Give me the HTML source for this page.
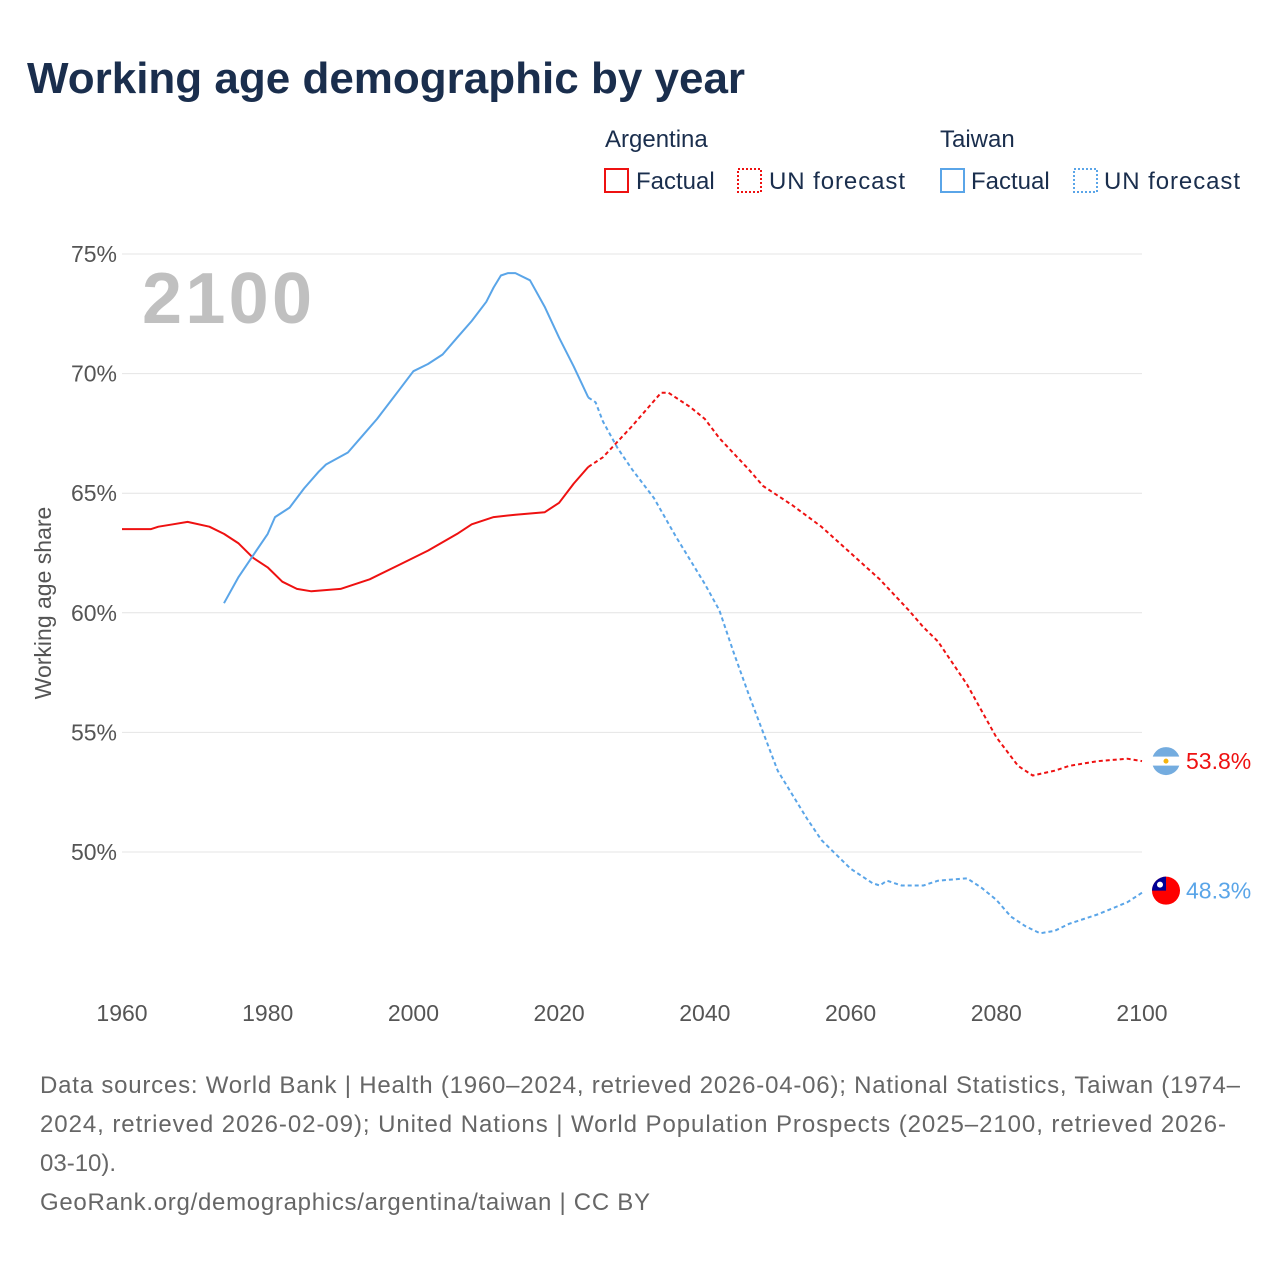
<!DOCTYPE html>
<html><head><meta charset="utf-8">
<style>
body{margin:0;background:#fff;font-family:"Liberation Sans",sans-serif;}
svg text{font-family:"Liberation Sans",sans-serif;}
</style></head>
<body>
<svg id="chart" width="1280" height="1280" xmlns="http://www.w3.org/2000/svg">
<text x="27" y="93" font-size="44" font-weight="bold" fill="#1a2e4d">Working age demographic by year</text>
<g font-size="24" fill="#1a2e4d">
<text x="605" y="147" fill="#1a2e4d">Argentina</text>
<text x="940" y="147" fill="#1a2e4d">Taiwan</text>
<rect x="605" y="169" width="23" height="23" fill="none" stroke="#ee1111" stroke-width="2"/>
<text x="636" y="189" fill="#1a2e4d">Factual</text>
<rect x="738" y="169" width="23" height="23" fill="none" stroke="#ee1111" stroke-width="2" stroke-dasharray="2,2"/>
<text x="769" y="189" fill="#1a2e4d" textLength="136">UN forecast</text>
<rect x="941" y="169" width="23" height="23" fill="none" stroke="#5aa5e8" stroke-width="2"/>
<text x="971" y="189" fill="#1a2e4d">Factual</text>
<rect x="1074" y="169" width="23" height="23" fill="none" stroke="#5aa5e8" stroke-width="2" stroke-dasharray="2,2"/>
<text x="1104" y="189" fill="#1a2e4d" textLength="136">UN forecast</text>
</g>
<text x="142" y="323" font-size="72" font-weight="bold" fill="#c0c0c0" textLength="170">2100</text>
<text transform="translate(51,603) rotate(-90)" text-anchor="middle" font-size="23" fill="#555">Working age share</text>
<g id="grid"></g>
<g id="marks"></g>
<text font-size="24" fill="#666">
<tspan x="40" y="1093" textLength="1200">Data sources: World Bank | Health (1960–2024, retrieved 2026-04-06); National Statistics, Taiwan (1974–</tspan>
<tspan x="40" y="1132" textLength="1186">2024, retrieved 2026-02-09); United Nations | World Population Prospects (2025–2100, retrieved 2026-</tspan>
<tspan x="40" y="1171">03-10).</tspan>
</text>
<text x="40" y="1210" font-size="24" fill="#666" textLength="610">GeoRank.org/demographics/argentina/taiwan | CC BY</text>
</svg>
<script>
const yTicks=[50,55,60,65,70,75];
const xTicks=[1960,1980,2000,2020,2040,2060,2080,2100];
const arYears=[1960,1964,1965,1967,1969,1972,1974,1976,1978,1980,1982,1984,1986,1990,1994,1998,2002,2006,2008,2011,2014,2018,2020,2022,2024];
const arValues=[63.5,63.5,63.6,63.7,63.8,63.6,63.3,62.9,62.3,61.9,61.3,61.0,60.9,61.0,61.4,62.0,62.6,63.3,63.7,64.0,64.1,64.2,64.6,65.4,66.1];
const arFcYears=[2024,2026,2030,2034,2035,2038,2040,2042,2046,2048,2050,2052,2056,2060,2064,2068,2070,2072,2076,2080,2083,2085,2088,2090,2094,2098,2100];
const arFcValues=[66.1,66.5,67.8,69.2,69.2,68.6,68.1,67.3,66.0,65.3,64.9,64.5,63.6,62.5,61.4,60.1,59.4,58.8,57.0,54.8,53.6,53.2,53.4,53.6,53.8,53.9,53.8];
const twYears=[1974,1976,1978,1980,1981,1983,1985,1987,1988,1991,1993,1995,1997,1998,2000,2002,2004,2006,2008,2010,2011,2012,2013,2014,2016,2018,2020,2022,2024];
const twValues=[60.4,61.5,62.4,63.3,64.0,64.4,65.2,65.9,66.2,66.7,67.4,68.1,68.9,69.3,70.1,70.4,70.8,71.5,72.2,73.0,73.6,74.1,74.2,74.2,73.9,72.8,71.5,70.3,69.0];
const twFcYears=[2024,2025,2026,2028,2030,2033,2036,2040,2042,2044,2046,2048,2050,2052,2054,2056,2058,2060,2063,2064,2065,2067,2070,2072,2076,2078,2080,2082,2084,2086,2088,2090,2094,2098,2100];
const twFcValues=[69.0,68.8,68.0,66.9,66.0,64.8,63.2,61.2,60.1,58.3,56.6,55.0,53.4,52.4,51.4,50.5,49.9,49.3,48.7,48.6,48.8,48.6,48.6,48.8,48.9,48.5,48.0,47.3,46.9,46.6,46.7,47.0,47.4,47.9,48.3];
const X=y=>122+(y-1960)*(1020/140);
const Y=v=>852-(v-50)*(598/25);
const NS="http://www.w3.org/2000/svg";
const grid=document.getElementById('grid'),marks=document.getElementById('marks');
function mk(t,a,p){const e=document.createElementNS(NS,t);for(const k in a)e.setAttribute(k,a[k]);p.appendChild(e);return e;}
yTicks.forEach(v=>{
 const l=mk('line',{x1:122,x2:1142,y1:Y(v),y2:Y(v),stroke:'#e4e4e4','stroke-width':1},grid);
 
 
 const t=mk('text',{x:117,y:Y(v)+8,'text-anchor':'end','font-size':23,fill:'#555'},grid);
 t.textContent=v+'%';
 
 
});
xTicks.forEach(y=>{
 const t=mk('text',{x:X(y),y:1021,'text-anchor':'middle','font-size':23,fill:'#555'},grid);
 t.textContent=y;
 
 
});
function line(xs,vs,color,dash,name){
 const d=xs.map((x,i)=>(i?'L':'M')+X(x).toFixed(1)+','+Y(vs[i]).toFixed(1)).join('');
 const p=mk('path',{d:d,fill:'none',stroke:color,'stroke-width':2,'stroke-linejoin':'round'},marks);
 if(dash)p.setAttribute('stroke-dasharray',dash);
 
 
}
line(arYears,arValues,'#ee1111',null,'argentina-factual-line');
line(arFcYears,arFcValues,'#ee1111','4,3','argentina-forecast-line');
line(twYears,twValues,'#5aa5e8',null,'taiwan-factual-line');
line(twFcYears,twFcValues,'#5aa5e8','4,3','taiwan-forecast-line');
const arLast=arFcValues[arFcValues.length-1],twLast=twFcValues[twFcValues.length-1];
const f1=mk('g',{},marks);


mk('circle',{cx:1166,cy:Y(arLast),r:14,fill:'#74acdf'},f1);
mk('rect',{x:1152,y:Y(arLast)-4.5,width:28,height:9,fill:'#fff'},f1);
mk('circle',{cx:1166,cy:Y(arLast),r:2.5,fill:'#f6b40e'},f1);
const t1=mk('text',{x:1186,y:Y(arLast)+8,'font-size':23,fill:'#ee1111'},marks);
t1.textContent=arLast.toFixed(1)+'%';


const ty=Y(twLast)-2;
const f2=mk('g',{},marks);


mk('circle',{cx:1166,cy:ty,r:14,fill:'#fe0000'},f2);
mk('path',{d:`M1166,${ty} L1166,${ty-14} A14,14 0 0 0 1152,${ty} Z`,fill:'#000095'},f2);
mk('circle',{cx:1160,cy:ty-6,r:3,fill:'#fff'},f2);
const t2=mk('text',{x:1186,y:ty+8,'font-size':23,fill:'#5aa5e8'},marks);
t2.textContent=twLast.toFixed(1)+'%';


</script>
</body></html>
